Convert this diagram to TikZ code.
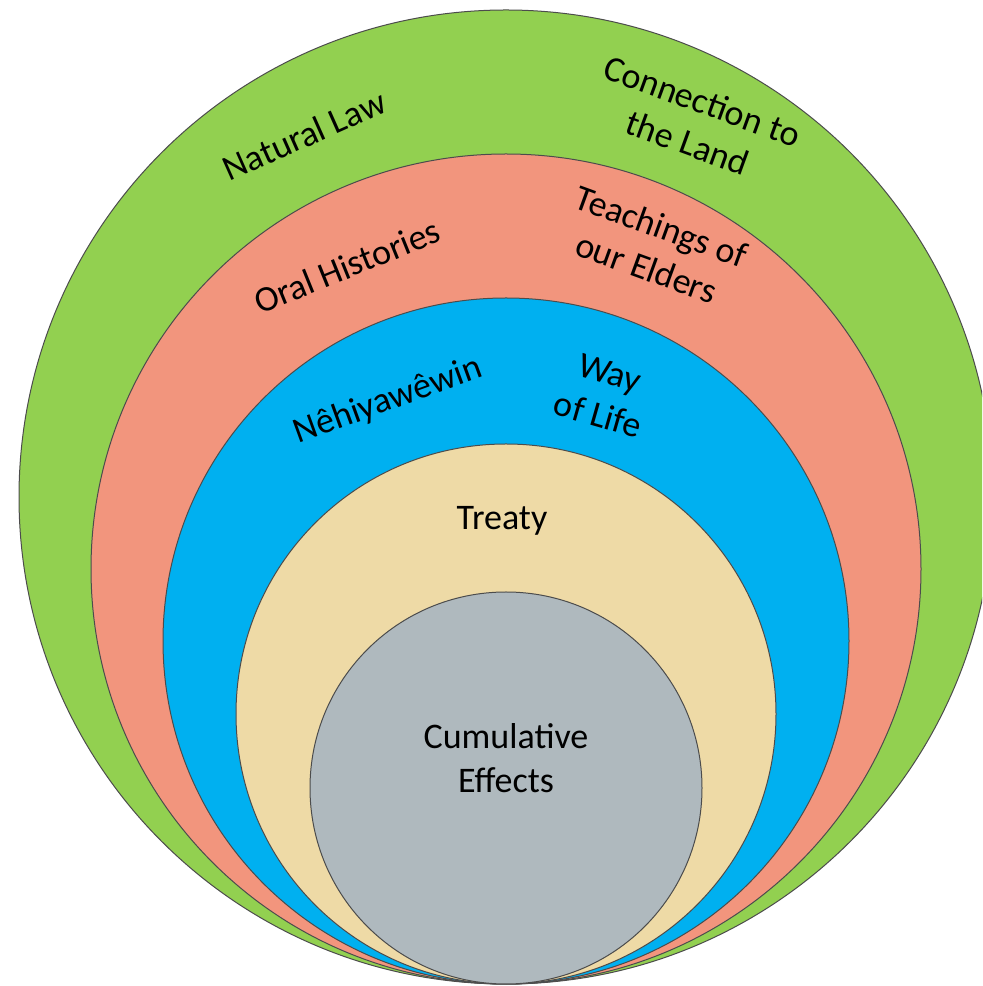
\documentclass[tikz,border=0pt]{standalone}
\usepackage{fontspec}
\setmainfont{Carlito}
\usetikzlibrary{positioning}

\definecolor{landgreen}{HTML}{92D050}
\definecolor{eldersalmon}{HTML}{F2957D}
\definecolor{lifeblue}{HTML}{00B0F0}
\definecolor{treatytan}{HTML}{EEDAA6}
\definecolor{effectgray}{HTML}{AFB9BE}

\begin{document}
\begin{tikzpicture}[x=0.5pt, y=0.5pt,
  ring/.style={draw=black!70, line width=0.5pt},
  label/.style={align=center, font=\fontsize{18}{22}\selectfont}]

\useasboundingbox (0, 0) rectangle (982, 986);
\clip (0, 0) rectangle (982, 986);

\draw[ring, fill=landgreen] (506, 489) circle (487);
\draw[ring, fill=eldersalmon] (506, 417) circle (415);
\draw[ring, fill=lifeblue] (506, 345) circle (343);
\draw[ring, fill=treatytan] (506, 272) circle (270);
\draw[ring, fill=effectgray] (506, 198) circle (196);

\node[label, rotate=24] (natlaw) at (304, 851) {Natural Law};
\node[label, rotate=-20] (land) at (695, 864) {Connection to\\the Land};
\node[label, rotate=22] (oral) at (347, 720) {Oral Histories};
\node[label, rotate=-20] (elders) at (654, 739) {Teachings of\\our Elders};
\node[label, rotate=20] (nehiy) at (388, 585) {Nêhiyawêwin};
\node[label, rotate=-16] (wayoflife) at (604, 592) {Way\\of Life};
\node[label] (treaty) at (502, 465) {Treaty};
\node[label] (cumul) at (506, 228) {Cumulative\\Effects};

\end{tikzpicture}
\end{document}
